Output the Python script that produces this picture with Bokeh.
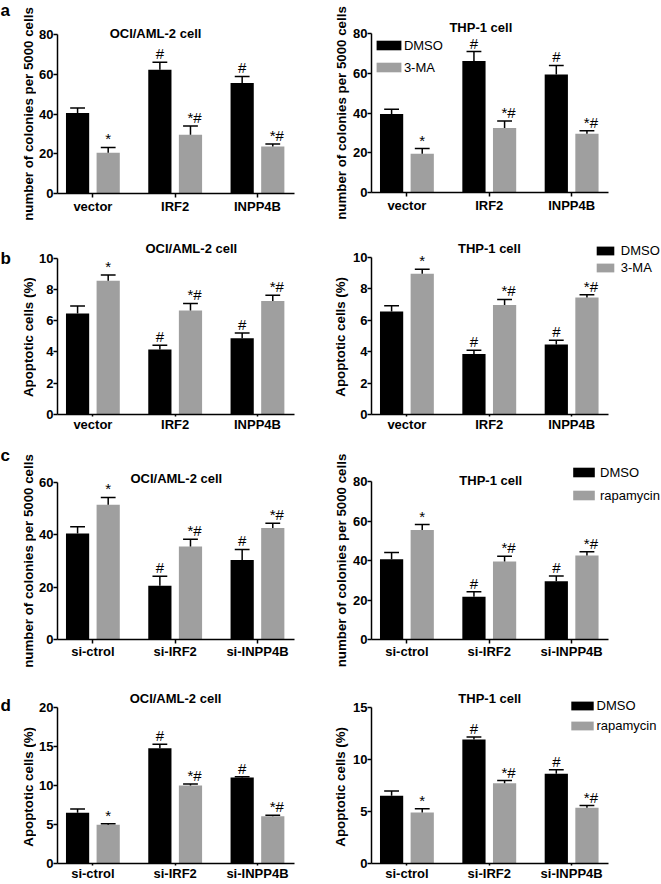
import math
from bokeh.plotting import figure
from bokeh.models import Range1d, FixedTicker, Label, Legend, LegendItem
from bokeh.layouts import column, row
from bokeh.embed import file_html
from bokeh.resources import INLINE
from bokeh.core.properties import value

# ---------------- data ----------------
groups_ab = ["vector", "IRF2", "INPP4B"]
groups_cd = ["si-ctrol", "si-IRF2", "si-INPP4B"]

a_oci_dmso = [40.5, 62.3, 55.6]
a_oci_dmso_err = [2.5, 3.7, 3.3]
a_oci_3ma = [20.5, 29.5, 23.6]
a_oci_3ma_err = [2.7, 4.5, 1.3]
a_thp_dmso = [39.5, 66.2, 59.4]
a_thp_dmso_err = [2.4, 4.7, 4.5]
a_thp_3ma = [19.5, 32.5, 29.5]
a_thp_3ma_err = [2.6, 3.5, 1.6]

b_oci_dmso = [6.45, 4.15, 4.87]
b_oci_dmso_err = [0.48, 0.27, 0.34]
b_oci_3ma = [8.55, 6.65, 7.25]
b_oci_3ma_err = [0.37, 0.45, 0.38]
b_thp_dmso = [6.55, 3.85, 4.45]
b_thp_dmso_err = [0.36, 0.24, 0.27]
b_thp_3ma = [8.95, 6.97, 7.45]
b_thp_3ma_err = [0.29, 0.35, 0.17]

c_oci_dmso = [40.5, 20.5, 30.4]
c_oci_dmso_err = [2.6, 3.7, 4.0]
c_oci_rapa = [51.5, 35.5, 42.6]
c_oci_rapa_err = [2.8, 2.8, 1.8]
c_thp_dmso = [40.6, 21.6, 29.5]
c_thp_dmso_err = [3.5, 2.6, 2.6]
c_thp_rapa = [55.5, 39.5, 42.5]
c_thp_rapa_err = [2.7, 2.7, 1.9]

d_oci_dmso = [6.5, 14.73, 11.0]
d_oci_dmso_err = [0.46, 0.5, 0.1]
d_oci_rapa = [4.94, 9.96, 6.03]
d_oci_rapa_err = [0.13, 0.2, 0.13]
d_thp_dmso = [6.5, 11.9, 8.6]
d_thp_dmso_err = [0.44, 0.22, 0.4]
d_thp_rapa = [4.9, 7.7, 5.35]
d_thp_rapa_err = [0.35, 0.25, 0.2]

marks_dmso = ["", "#", "#"]
marks_treat = ["*", "*#", "*#"]

ticks_colonies_80 = [0, 20, 40, 60, 80]
ticks_colonies_60 = [0, 20, 40, 60]
ticks_apop_10 = [0, 2, 4, 6, 8, 10]
ticks_apop_20 = [0, 5, 10, 15, 20]
ticks_apop_15 = [0, 5, 10, 15]

YL_COL = "number of colonies per 5000 cells"
YL_APO = "Apoptotic cells (%)"
T_OCI = "OCI/AML-2 cell"
T_THP = "THP-1 cell"

# ---------------- style / geometry ----------------
FONT = "Liberation Sans"
BLACK = "#000000"
GRAY = "#9f9f9f"
BAR_W = 0.282
OFF = 0.186
CAP = 0.09
X0, X1 = -0.43, 2.45
TOTAL_H = 883
ITEM_H = 17


def panel(ox, oy, w, h, bl, Z, T, axis_len_x, groups, dmso, dmso_err, trt, trt_err,
          yticks, title, title_xy, legend=None, xlab_standoff=0, xtick_out=4):
    ymax = yticks[-1]
    ux = (X1 - X0) / axis_len_x
    uy = ymax / (Z - T)
    x_end = X0 + (w - bl) * ux
    y_end = Z * uy
    p = figure(width=w, height=h, output_backend="svg", toolbar_location=None,
               x_range=Range1d(X0, x_end), y_range=Range1d(0, y_end),
               min_border_left=bl, min_border_right=0,
               min_border_top=0, min_border_bottom=h - Z)
    p.outline_line_color = None
    p.grid.visible = False
    p.background_fill_color = "white"
    p.border_fill_color = "white"

    def to_data(px, py):
        return X0 + (px - (ox + bl)) * ux, (oy + Z - py) * uy

    idx = list(range(len(groups)))
    xd = [i - OFF for i in idx]
    xt = [i + OFF for i in idx]
    r1 = p.vbar(x=xd, top=dmso, width=BAR_W, fill_color=BLACK, line_color=None)
    r2 = p.vbar(x=xt, top=trt, width=BAR_W, fill_color=GRAY, line_color=None)

    for xs, vals, errs in ((xd, dmso, dmso_err), (xt, trt, trt_err)):
        tops = [v + e for v, e in zip(vals, errs)]
        p.segment(x0=xs, y0=vals, x1=xs, y1=tops, line_color="black", line_width=1.5)
        p.segment(x0=[x - CAP for x in xs], y0=tops, x1=[x + CAP for x in xs], y1=tops,
                  line_color="black", line_width=1.5)

    for xs, vals, errs, marks in ((xd, dmso, dmso_err, marks_dmso), (xt, trt, trt_err, marks_treat)):
        tops = [v + e for v, e in zip(vals, errs)]
        offs = [4 if len(m) > 1 else 0 for m in marks]
        p.text(x=xs, y=tops, text=marks, x_offset=offs,
               text_align="center", text_baseline="bottom",
               text_font=value(FONT), text_font_size="15px", text_color="black")

    for ax in (p.xaxis[0], p.yaxis[0]):
        ax.axis_line_width = 1.5
        ax.axis_line_color = "black"
        ax.major_tick_line_width = 1.5
        ax.major_tick_line_color = "black"
        ax.major_tick_in = 0
        ax.minor_tick_line_color = None
        ax.major_label_text_font = FONT
        ax.major_label_text_font_size = "13px"
        ax.major_label_text_font_style = "bold"
        ax.major_label_text_color = "black"
    p.xaxis.bounds = (X0, X1)
    p.xaxis.ticker = FixedTicker(ticks=idx)
    p.xaxis.major_label_overrides = {i: g for i, g in zip(idx, groups)}
    p.xaxis.major_tick_out = xtick_out
    p.xaxis.major_label_standoff = xlab_standoff
    p.yaxis.bounds = (0, ymax)
    p.yaxis.ticker = FixedTicker(ticks=yticks)
    p.yaxis.major_tick_out = 4
    p.yaxis.major_label_standoff = 0

    tx, ty = to_data(*title_xy)
    p.add_layout(Label(x=tx, y=ty, text=title, text_align="center", text_baseline="alphabetic",
                       text_font=FONT, text_font_size="13px", text_font_style="bold",
                       text_color="black"))
    if legend:
        lab2, (bx, bcy), gw, gh, standoff, spacing = legend
        H = 2 * ITEM_H + spacing
        vx = bx - 0.1 * gw - (ox + bl)
        vy = (oy + Z) - (bcy - ITEM_H / 2) - H
        lg = Legend(items=[LegendItem(label="DMSO", renderers=[r1]),
                           LegendItem(label=lab2, renderers=[r2])],
                    location=(vx, vy), orientation="vertical",
                    glyph_width=gw, glyph_height=gh, label_standoff=standoff,
                    label_height=ITEM_H, spacing=spacing, padding=0, margin=0,
                    label_text_font=FONT, label_text_font_size="13px",
                    label_text_color="black", label_text_baseline="middle",
                    border_line_color=None, background_fill_alpha=0)
        p.add_layout(lg)
    return p


def strip(w, texts):
    s = figure(width=w, height=TOTAL_H, output_backend="svg", toolbar_location=None,
               x_range=Range1d(0, w), y_range=Range1d(0, TOTAL_H),
               x_axis_type=None, y_axis_type=None,
               min_border_left=0, min_border_right=0, min_border_top=0, min_border_bottom=0)
    s.outline_line_color = None
    s.grid.visible = False
    for (txt, px, py, size, ang, align, base) in texts:
        s.text(x=[px], y=[TOTAL_H - py], text=[txt], angle=ang,
               text_align=align, text_baseline=base,
               text_font=value(FONT), text_font_size=size, text_font_style="bold",
               text_color="black")
    return s


# left column figures (page x 36..330), right column (350..660)
LW, RW = 294, 310
pa1 = panel(36, 0, LW, 216, 21, 193, 34, 237, groups_ab, a_oci_dmso, a_oci_dmso_err,
            a_oci_3ma, a_oci_3ma_err, ticks_colonies_80, T_OCI, (155, 33.3), xlab_standoff=1)
pa2 = panel(350, 0, RW, 216, 20, 192, 33, 238, groups_ab, a_thp_dmso, a_thp_dmso_err,
            a_thp_3ma, a_thp_3ma_err, ticks_colonies_80, T_THP, (479.7, 26.7),
            legend=("3-MA", (375, 45), 31, 12, 0, 5), xlab_standoff=1)

pb1 = panel(36, 216, LW, 218, 21, 200, 42, 237, groups_ab, b_oci_dmso, b_oci_dmso_err,
            b_oci_3ma, b_oci_3ma_err, ticks_apop_10, T_OCI, (190.8, 248.3), xtick_out=2)
pb2 = panel(350, 216, RW, 218, 20, 199, 41, 238, groups_ab, b_thp_dmso, b_thp_dmso_err,
            b_thp_3ma, b_thp_3ma_err, ticks_apop_10, T_THP, (488.3, 248.3),
            legend=("3-MA", (595, 251.2), 22, 11, 5, 0), xtick_out=2)

pc1 = panel(36, 434, LW, 228, 21, 205, 48, 237, groups_cd, c_oci_dmso, c_oci_dmso_err,
            c_oci_rapa, c_oci_rapa_err, ticks_colonies_60, T_OCI, (175.8, 478.3))
pc2 = panel(350, 434, RW, 228, 20, 205, 47, 238, groups_cd, c_thp_dmso, c_thp_dmso_err,
            c_thp_rapa, c_thp_rapa_err, ticks_colonies_80, T_THP, (489.7, 480),
            legend=("rapamycin", (571.7, 472), 27, 12, 3, 6))

pd1 = panel(36, 662, LW, 221, 21, 203, 45, 237, groups_cd, d_oci_dmso, d_oci_dmso_err,
            d_oci_rapa, d_oci_rapa_err, ticks_apop_20, T_OCI, (175, 698.3), xtick_out=2)
pd2 = panel(350, 662, RW, 221, 20, 203, 45, 238, groups_cd, d_thp_dmso, d_thp_dmso_err,
            d_thp_rapa, d_thp_rapa_err, ticks_apop_15, T_THP, (488.7, 698.3),
            legend=("rapamycin", (569.3, 707.8), 28, 11, 1, 3), xtick_out=2)

ROT = math.pi / 2
strip_left = strip(36, [
    ("a", 0, 10, "17px", 0, "left", "alphabetic"),
    ("b", 0, 258.3, "17px", 0, "left", "alphabetic"),
    ("c", 0, 455, "17px", 0, "left", "alphabetic"),
    ("d", 0, 705, "17px", 0, "left", "alphabetic"),
    (YL_COL, 28, 113.5, "13.3px", ROT, "center", "middle"),
    (YL_APO, 27.5, 336.7, "13.3px", ROT, "center", "middle"),
    (YL_COL, 28, 560.5, "13.3px", ROT, "center", "middle"),
    (YL_APO, 27.5, 786.3, "13.3px", ROT, "center", "middle"),
])
strip_mid = strip(20, [
    (YL_COL, 10.5, 112.5, "13.3px", ROT, "center", "middle"),
    (YL_APO, 10, 336.3, "13.3px", ROT, "center", "middle"),
    (YL_COL, 10.5, 560, "13.3px", ROT, "center", "middle"),
    (YL_APO, 10, 786.3, "13.3px", ROT, "center", "middle"),
])

layout = row(strip_left, column(pa1, pb1, pc1, pd1), strip_mid, column(pa2, pb2, pc2, pd2))

with open("out.html", "w") as f:
    f.write(file_html(layout, INLINE))
